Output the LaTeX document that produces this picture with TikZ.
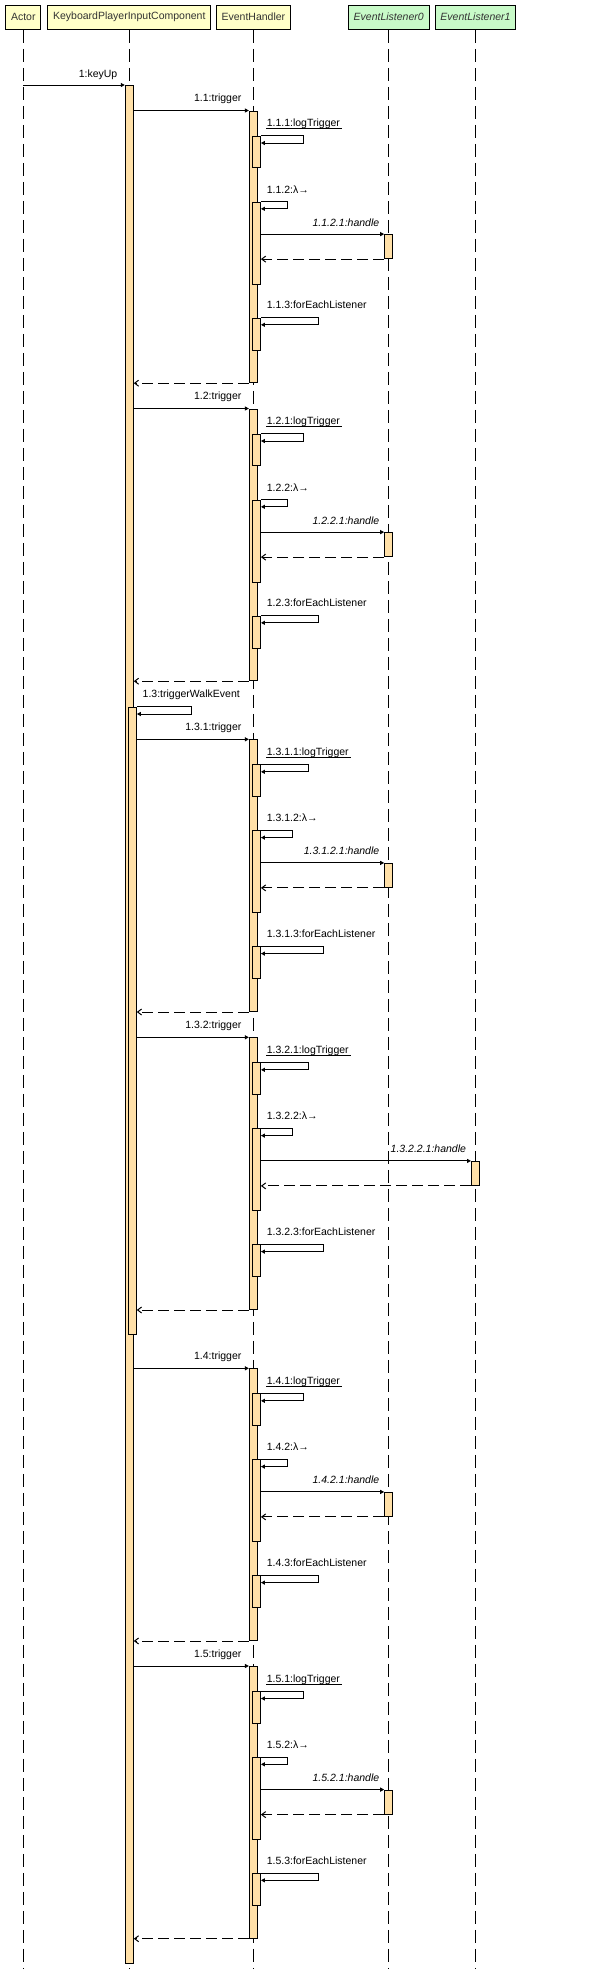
\documentclass[tikz,border=0pt]{standalone}
\usepackage{fontspec}
\setmainfont{Liberation Sans}
\usetikzlibrary{arrows.meta}
\definecolor{headyellow}{RGB}{255,255,200}
\definecolor{headgreen}{RGB}{200,250,200}
\definecolor{actfill}{RGB}{255,224,168}
\begin{document}
\begin{tikzpicture}[x=1pt, y=-1pt, line width=1pt,
    every node/.style={font=\fontsize{10.5}{12}\selectfont},
    head/.style={draw, fill=headyellow, minimum height=24.3pt, inner xsep=5.3pt, inner ysep=0pt, text=black!80},
    listener/.style={head, fill=headgreen, font=\fontsize{10.5}{12}\selectfont\itshape},
    lifeline/.style={dash pattern=on 13.3pt off 5.7pt},
    act/.style={draw, fill=actfill, minimum width=8pt, inner sep=0pt, anchor=north},
    msg/.style={-{Triangle[length=4pt,width=4pt]}},
    ret/.style={dash pattern=on 11pt off 5pt, -{Straight Barb[length=4pt,width=6pt]}},
    lbl/.style={inner sep=0pt}]
    \useasboundingbox (0,0) rectangle (603,1974);

    % Participants
    \node[head] (a) at (23.3,17.2) {Actor};
    \node[head] (k) at (129.3,17.2) {KeyboardPlayerInputComponent};
    \node[head] (h) at (253.4,17.2) {EventHandler};
    \node[listener] (l0) at (388.7,17.2) {EventListener0};
    \node[listener] (l1) at (475.5,17.2) {EventListener1};

    % Lifelines
    \foreach \n in {a,k,h,l0,l1}
        \draw[lifeline] (\n.south) -- (\n.south |- 0,1968.3);

    % Input component
    \node[act, minimum height=1878.3pt] (k0) at (129.3,85) {};
    \draw[msg] (a.south |- k0.north) -- (k0.north west)
        node[lbl, anchor=base east, xshift=-7pt, yshift=8pt] {1:keyUp};
    \node[act, minimum height=627.3pt] (k1) at (132.3,706.7) {};
    \draw[msg] (k1.north east) -- ++(55,0) -- ++(0,7.3) -- ++(-55,0);
    \node[lbl, anchor=base west] (twe) at ([xshift=5.4pt,yshift=9pt]k1.north east) {1.3:triggerWalkEvent};

    % Trigger calls
    \foreach \ty/\p/\cl/\lx/\w/\id in {110.5/1.1/k0/388.7/0/a, 408.5/1.2/k0/388.7/0/b,
            739.3/1.3.1/k1/388.7/5/c, 1037.3/1.3.2/k1/475.5/5/d,
            1368.3/1.4/k0/388.7/0/e, 1666/1.5/k0/388.7/0/f}{
        \node[act, minimum height=271.7pt] (h\id) at (253.4,\ty) {};
        \draw[msg] (\cl.east |- h\id.north) -- (h\id.north west)
            node[lbl, anchor=base east, xshift=-7pt, yshift=9pt] {\p:trigger};
        % logTrigger
        \node[act, minimum height=31.6pt] (n1\id) at (256.4,\ty+25) {};
        \draw[msg] (n1\id.north east) -- ++(43+\w,0) -- ++(0,7.5) -- ++(-43-\w,0);
        \node[lbl, anchor=base west] (lt\id) at ([xshift=5.4pt,yshift=9pt]n1\id.north east) {\p.1:logTrigger};
        \draw[line width=0.8pt] ([yshift=-2.3pt]lt\id.base west) -- ([xshift=1.5pt,yshift=-2.3pt]lt\id.base east);
        % lambda
        \node[act, minimum height=82pt] (n2\id) at (256.4,\ty+91) {};
        \draw[msg] (n2\id.north east) -- ++(27+\w,0) -- ++(0,7.3) -- ++(-27-\w,0);
        \node[lbl, anchor=base west] at ([xshift=5.4pt,yshift=8.5pt]n2\id.north east) {\p.2:λ→};
        % handle
        \node[act, minimum height=24pt] (e\id) at (\lx,\ty+123.6) {};
        \draw[msg] (n2\id.east |- e\id.north) -- (e\id.north west)
            node[lbl, anchor=base east, xshift=-4.5pt, yshift=8pt, font=\fontsize{10.5}{12}\selectfont\itshape] {\p.2.1:handle};
        \draw[ret] (e\id.south west) -- (n2\id.east |- e\id.south);
        % forEachListener
        \node[act, minimum height=32pt] (n3\id) at (256.4,\ty+207) {};
        \draw[msg] (n3\id.north east) -- ++(58+\w,0) -- ++(0,7.3) -- ++(-58-\w,0);
        \node[lbl, anchor=base west] at ([xshift=5.4pt,yshift=9pt]n3\id.north east) {\p.3:forEachListener};
        % return
        \draw[ret] (h\id.south west) -- (\cl.east |- h\id.south);
    }
\end{tikzpicture}
\end{document}
